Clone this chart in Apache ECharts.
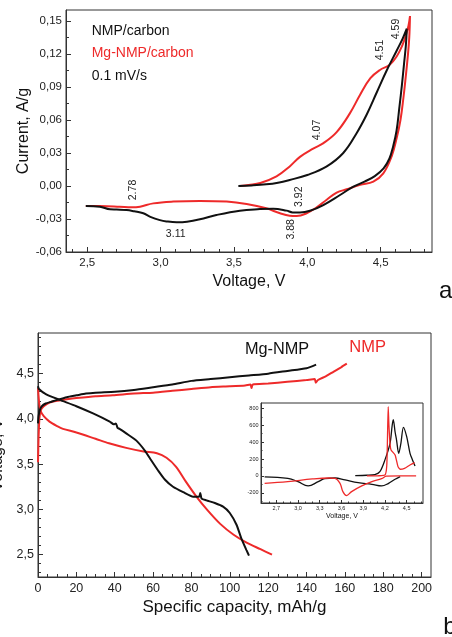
<!DOCTYPE html>
<html><head><meta charset="utf-8">
<script src="https://cdn.jsdelivr.net/npm/echarts@6/dist/echarts.min.js"></script>
<style>html,body{margin:0;padding:0;background:#fff}#c{width:452px;height:637px}</style>
</head><body><div id="c"></div><script>
// ---------- Panel a: cyclic voltammetry ----------
const cvVoltTicks = [2.5, 3.0, 3.5, 4.0, 4.5];
const cvCurrentTicks = [-0.06, -0.03, 0, 0.03, 0.06, 0.09, 0.12, 0.15];
// NMP/carbon (black) : anodic sweep 3.53 -> 4.68 then cathodic back to 2.5
const cvNmpVolt = [3.53,3.62,3.72,3.80,3.88,4.00,4.13,4.245,4.336,4.405,4.473,4.541,4.609,4.65,4.678,
  4.672,4.66,4.645,4.628,4.608,4.585,4.56,4.52,4.46,4.39,4.314,4.223,4.109,4.018,3.95,3.90,3.859,3.768,3.677,3.54,3.38,3.268,3.18,3.109,3.04,2.995,2.93,2.882,2.82,2.768,2.70,2.655,2.586,2.49];
const cvNmpCurr = [0.000,0.0005,0.0015,0.003,0.0055,0.010,0.0176,0.030,0.048,0.065,0.085,0.105,0.123,0.134,0.143,
  0.128,0.112,0.092,0.072,0.050,0.036,0.025,0.016,0.009,0.004,-0.0006,-0.0082,-0.0173,-0.0225,-0.024,-0.024,-0.0224,-0.0206,-0.021,-0.0224,-0.0264,-0.0303,-0.0325,-0.0330,-0.0322,-0.031,-0.028,-0.0248,-0.023,-0.0218,-0.0214,-0.0212,-0.0188,-0.0182];
// Mg-NMP/carbon (red)
const cvMgVolt = [3.54,3.60,3.68,3.79,3.88,3.95,4.04,4.11,4.20,4.29,4.36,4.43,4.495,4.56,4.61,4.645,4.672,4.69,4.70,
  4.695,4.685,4.67,4.655,4.635,4.61,4.575,4.518,4.45,4.36,4.268,4.20,4.13,4.064,3.995,3.927,3.88,3.814,3.72,3.586,3.45,3.268,3.086,2.95,2.86,2.80,2.72,2.586,2.49];
const cvMgCurr = [0.000,0.001,0.0028,0.0088,0.0178,0.0265,0.034,0.039,0.049,0.066,0.083,0.098,0.1055,0.110,0.118,0.127,0.137,0.146,0.1545,
  0.135,0.118,0.098,0.080,0.060,0.044,0.027,0.0115,0.004,0.001,-0.003,-0.006,-0.0127,-0.0194,-0.0248,-0.0273,-0.027,-0.0248,-0.0203,-0.0164,-0.0142,-0.0136,-0.0142,-0.0158,-0.0188,-0.0194,-0.0188,-0.0182,-0.0182];

// ---------- Panel b: charge / discharge ----------
const capTicks = [0, 20, 40, 60, 80, 100, 120, 140, 160, 180, 200];
const voltTicksB = [2.5, 3.0, 3.5, 4.0, 4.5];
const mgChargeCap = [0,0.3,1,2,4,7,10,15,20,25,30,40,50,60,70,80,90,100,110,120,130,140,145];
const mgChargeV   = [3.95,4.03,4.10,4.14,4.17,4.19,4.21,4.24,4.26,4.28,4.29,4.30,4.32,4.35,4.38,4.42,4.44,4.46,4.48,4.50,4.53,4.56,4.60];
const mgDischCap = [0,0.5,4.3,11.3,20,28.7,37.4,39.5,40.6,41.5,42.5,46,51.3,55.7,59.1,62.6,66.1,70.4,75.7,80.9,84.0,84.6,85.3,87.8,92.2,96.5,100,103.5,106,108.7,110];
const mgDischV   = [4.36,4.33,4.27,4.21,4.14,4.06,3.97,3.94,3.95,3.90,3.89,3.84,3.76,3.65,3.54,3.43,3.33,3.25,3.19,3.14,3.14,3.18,3.12,3.10,3.07,3.03,2.96,2.83,2.68,2.55,2.49];
const nmpChargeCap = [0,0.3,0.8,1.5,3,6,10,16,20,30,39,50,60,70,80,90,100,108,110.8,111.3,112,120,130,140,144.3,144.8,146,150,154,158,161];
const nmpChargeV   = [3.52,3.80,4.02,4.10,4.14,4.18,4.20,4.22,4.23,4.25,4.26,4.28,4.29,4.31,4.33,4.35,4.36,4.37,4.38,4.34,4.38,4.39,4.41,4.43,4.44,4.40,4.43,4.47,4.52,4.57,4.61];
const nmpDischCap = [0,0.3,0.8,1.5,3,6,10,13,20,30,37,46,55,62,67,72,77,83,88,95,102,109,116,122];
const nmpDischV   = [4.34,4.25,4.14,4.08,4.03,3.97,3.92,3.89,3.85,3.78,3.73,3.68,3.64,3.62,3.57,3.47,3.31,3.13,3.00,2.84,2.72,2.63,2.56,2.50];

// ---------- Inset: dQ/dV ----------
const insetVoltTicks = [2.7, 3.0, 3.3, 3.6, 3.9, 4.2, 4.5];
const insetDqTicks = [-200, 0, 200, 400, 600, 800];
const inMgDischV = [4.41,4.34,4.25,4.155,4.02,3.83,3.65,3.51,3.37,3.28,3.14,3.0,2.86,2.54];
const inMgDischQ = [-8,-39,-87,-118,-99,-79,-47,-24,-32,-67,-118,-67,-28,-10];
const inMgChargeV = [3.79,3.95,4.06,4.13,4.20,4.27,4.30,4.315,4.34,4.36,4.39,4.42,4.455,4.50,4.546,4.58,4.615];
const inMgChargeQ = [5,8,15,50,190,386,600,665,520,425,268,386,575,465,268,190,118];
const inNmpChargeV = [3.95,4.10,4.20,4.225,4.235,4.245,4.255,4.27,4.284,4.34,4.38,4.41,4.47,4.545,4.61];
const inNmpChargeQ = [0,2,10,120,450,820,600,380,307,248,110,79,90,130,158];
const inNmpDischV = [4.63,4.40,4.22,4.155,4.02,3.88,3.74,3.67,3.62,3.58,3.51,3.43,3.20,2.86,2.54];
const inNmpDischQ = [0,0,-2,-32,-67,-118,-185,-232,-185,-87,-28,-24,-35,-67,-87];

const BLACK = '#111111', RED = '#ee2a2a', AX = '#333333';
const FONT = '"Liberation Sans", Arial, sans-serif';
const zip = (a, b) => a.map((v, i) => [v, b[i]]);
function steps(lo, hi, st) { const r = []; for (let v = lo; v <= hi + 1e-9; v += st) r.push(+v.toFixed(4)); return r; }

function axisPair(dim, gridIndex, min, max, majors, minors, fmt, o) {
  const pos = dim === 'x' ? 'bottom' : 'left';
  const main = {
    type: 'value', gridIndex, min, max, position: pos,
    axisLine: { show: true, onZero: false, lineStyle: { color: AX, width: 1 } },
    axisTick: { show: true, inside: true, length: o.majorLen, customValues: majors, lineStyle: { color: AX, width: 1 } },
    axisLabel: { show: true, customValues: majors, formatter: fmt, fontSize: o.labelSize, color: '#222', margin: o.margin, fontFamily: FONT },
    splitLine: { show: false },
    name: o.name || '', nameLocation: 'middle', nameGap: o.nameGap || 0,
    nameTextStyle: { fontSize: o.nameSize || 12, color: '#111', fontFamily: FONT }
  };
  if (o.noMove) main.nameMoveOverlap = false;
  const minor = {
    type: 'value', gridIndex, min, max, position: pos,
    axisLine: { show: false, onZero: false },
    axisTick: { show: true, inside: true, length: o.minorLen, customValues: minors, lineStyle: { color: AX, width: 1 } },
    axisLabel: { show: false }, splitLine: { show: false }
  };
  return [main, minor];
}
const comma = d => v => (+v).toFixed(d).replace('.', ',');

const xAxes = [
  ...axisPair('x', 0, 2.355, 4.85, cvVoltTicks, steps(2.4, 4.8, 0.1), comma(1),
    { majorLen: 5, minorLen: 3, labelSize: 11.5, margin: 5, name: 'Voltage, V', nameGap: 22, nameSize: 16 }),
  ...axisPair('x', 1, 0, 204.9, capTicks, steps(0, 200, 5), v => String(Math.round(v)),
    { majorLen: 5, minorLen: 3, labelSize: 12.5, margin: 5, name: 'Specific capacity, mAh/g', nameGap: 22, nameSize: 17 }),
  ...axisPair('x', 2, 2.49, 4.725, insetVoltTicks, steps(2.5, 4.7, 0.1), comma(1),
    { majorLen: 3, minorLen: 1.5, labelSize: 5.5, margin: 2.5, name: 'Voltage, V', nameGap: 7, nameSize: 7 })
];
const yAxes = [
  ...axisPair('y', 0, -0.06, 0.16, cvCurrentTicks, steps(-0.06, 0.15, 0.015), comma(2),
    { majorLen: 5, minorLen: 3, labelSize: 11.5, margin: 4, name: 'Current, A/g', nameGap: 34, nameSize: 16, noMove: true }),
  ...axisPair('y', 1, 2.253, 4.949, voltTicksB, steps(2.3, 4.9, 0.1), comma(1),
    { majorLen: 5, minorLen: 3, labelSize: 12.5, margin: 4, name: 'Voltage, V', nameGap: 30, nameSize: 16 }),
  ...axisPair('y', 2, -320, 863, insetDqTicks, steps(-300, 800, 100), v => String(Math.round(v)),
    { majorLen: 3, minorLen: 1.5, labelSize: 5.5, margin: 2.5 })
];

function line(xi, yi, data, color, width, smooth) {
  return { type: 'line', xAxisIndex: xi, yAxisIndex: yi, data, showSymbol: false, symbol: 'none',
    smooth: smooth, lineStyle: { color, width }, itemStyle: { color }, animation: false, silent: true };
}

const option = {
  animation: false,
  backgroundColor: '#ffffff',
  grid: [
    { left: 66, top: 10, width: 366, height: 242, show: true, borderColor: AX, borderWidth: 1, backgroundColor: 'transparent', outerBoundsMode: 'none' },
    { left: 38, top: 333, width: 393, height: 244, show: true, borderColor: AX, borderWidth: 1, backgroundColor: 'transparent', outerBoundsMode: 'none' },
    { left: 261, top: 403, width: 162, height: 100, show: true, borderColor: AX, borderWidth: 1, backgroundColor: 'transparent', outerBoundsMode: 'none' }
  ],
  xAxis: xAxes,
  yAxis: yAxes,
  series: [
    line(0, 0, zip(cvMgVolt, cvMgCurr), RED, 2, 0.4),
    line(0, 0, zip(cvNmpVolt, cvNmpCurr), BLACK, 2, 0.4),
    line(2, 2, zip(nmpChargeCap, nmpChargeV), RED, 2, 0.2),
    line(2, 2, zip(nmpDischCap, nmpDischV), RED, 2, 0.3),
    line(2, 2, zip(mgChargeCap, mgChargeV), BLACK, 2, 0.2),
    line(2, 2, zip(mgDischCap, mgDischV), BLACK, 2, 0.2),
    line(4, 4, zip(inMgDischV, inMgDischQ), BLACK, 1.3, 0.4),
    line(4, 4, zip(inMgChargeV, inMgChargeQ), BLACK, 1.3, 0.3),
    line(4, 4, zip(inNmpDischV, inNmpDischQ), RED, 1.3, 0.4),
    line(4, 4, zip(inNmpChargeV, inNmpChargeQ), RED, 1.3, 0.2)
  ],
  graphic: [
    { type: 'text', x: 91.7, y: 30.7, style: { text: 'NMP/carbon', font: '14px ' + FONT, fill: '#111', align: 'left', verticalAlign: 'middle' } },
    { type: 'text', x: 91.7, y: 53.3, style: { text: 'Mg-NMP/carbon', font: '14px ' + FONT, fill: RED, align: 'left', verticalAlign: 'middle' } },
    { type: 'text', x: 91.7, y: 76, style: { text: '0.1 mV/s', font: '14px ' + FONT, fill: '#111', align: 'left', verticalAlign: 'middle' } },
    { type: 'text', x: 175.7, y: 234.3, style: { text: '3.11', font: '10.5px ' + FONT, fill: '#222', align: 'center', verticalAlign: 'middle' } },
    { type: 'text', x: 132.7, y: 190, rotation: Math.PI / 2, style: { text: '2.78', font: '10.5px ' + FONT, fill: '#222', align: 'center', verticalAlign: 'middle' } },
    { type: 'text', x: 291, y: 229.3, rotation: Math.PI / 2, style: { text: '3.88', font: '10.5px ' + FONT, fill: '#222', align: 'center', verticalAlign: 'middle' } },
    { type: 'text', x: 299.3, y: 196.7, rotation: Math.PI / 2, style: { text: '3.92', font: '10.5px ' + FONT, fill: '#222', align: 'center', verticalAlign: 'middle' } },
    { type: 'text', x: 317.3, y: 130, rotation: Math.PI / 2, style: { text: '4.07', font: '10.5px ' + FONT, fill: '#222', align: 'center', verticalAlign: 'middle' } },
    { type: 'text', x: 380.5, y: 50, rotation: Math.PI / 2, style: { text: '4.51', font: '10.5px ' + FONT, fill: '#222', align: 'center', verticalAlign: 'middle' } },
    { type: 'text', x: 395.7, y: 29, rotation: Math.PI / 2, style: { text: '4.59', font: '10.5px ' + FONT, fill: '#222', align: 'center', verticalAlign: 'middle' } },
    { type: 'text', x: 245, y: 349.3, style: { text: 'Mg-NMP', font: '16.3px ' + FONT, fill: '#111', align: 'left', verticalAlign: 'middle' } },
    { type: 'text', x: 349.3, y: 347.3, style: { text: 'NMP', font: '16.5px ' + FONT, fill: RED, align: 'left', verticalAlign: 'middle' } },
    { type: 'text', x: 439, y: 291.6, style: { text: 'a', font: '24px ' + FONT, fill: '#111', align: 'left', verticalAlign: 'middle' } },
    { type: 'text', x: 443.3, y: 627, style: { text: 'b', font: '24px ' + FONT, fill: '#111', align: 'left', verticalAlign: 'middle' } }
  ]
};
const chart = echarts.init(document.getElementById('c'), null, { renderer: 'canvas' });
chart.setOption(option);
</script></body></html>
